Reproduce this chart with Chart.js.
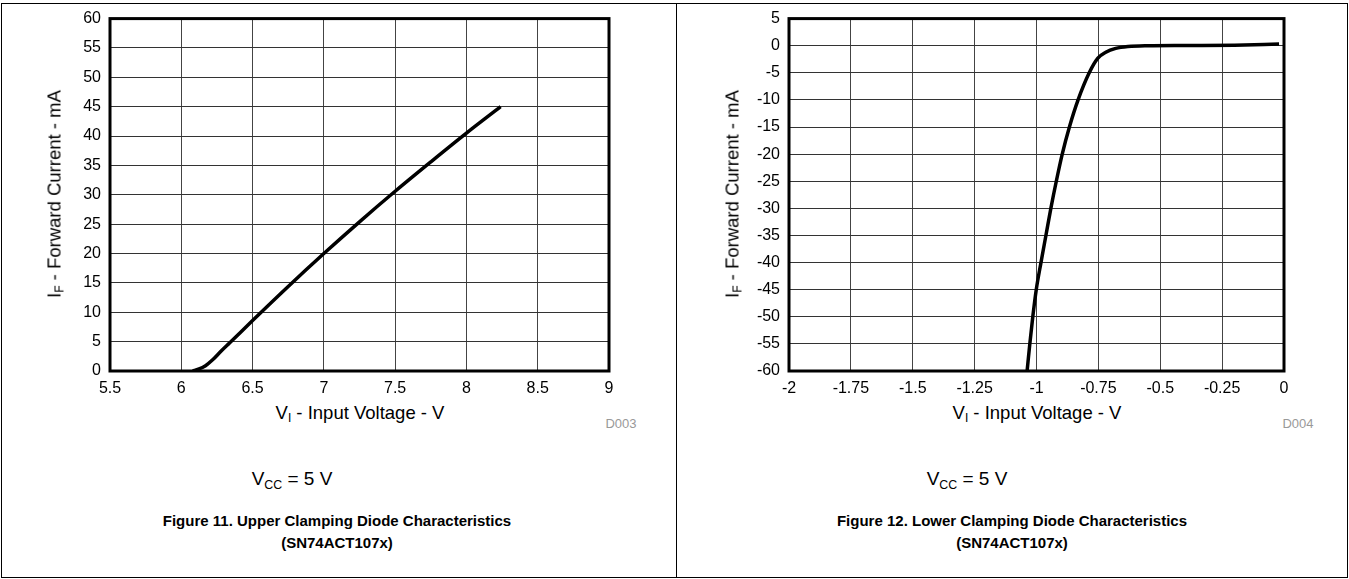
<!DOCTYPE html>
<html>
<head>
<meta charset="utf-8">
<script src="https://cdn.jsdelivr.net/npm/chart.js@4/dist/chart.umd.min.js"></script>
<style>
  body { margin: 0; background: #fff; font-family: "Liberation Sans", Arial, sans-serif; }
  #page { position: relative; width: 1349px; height: 579px; overflow: hidden; }
  .box { position: absolute; border: 1px solid #000; }
  .vline { position: absolute; width: 1px; background: #000; }
  canvas { position: absolute; }
  .txt { position: absolute; white-space: nowrap; color: #000; transform: translate(-50%, -50%); }
  .ytitle { transform: translate(-50%, -50%) rotate(-90deg); }
  .xtitle, .ytitle { font-size: 18.5px; }
  .code { font-size: 13px; color: #999; }
  .vcc { font-size: 19px; }
  .cap { font-size: 15px; font-weight: bold; text-align: center; line-height: 22px; }
  sub { font-size: 65%; vertical-align: -0.25em; }
</style>
</head>
<body>
<div id="page">
  <div class="box" style="left:1px;top:3px;width:1345px;height:573px;"></div>
  <div class="vline" style="left:676px;top:3px;height:575px;"></div>

  <canvas id="c1" style="left:0;top:0;"></canvas>
  <canvas id="c2" style="left:677px;top:0;"></canvas>

  <div class="txt ytitle" style="left:55px;top:194px;">I<sub>F</sub> - Forward Current - mA</div>
  <div class="txt xtitle" style="left:360px;top:413px;">V<sub>I</sub> - Input Voltage - V</div>
  <div class="txt code" style="left:621px;top:423px;">D003</div>
  <div class="txt vcc" style="left:292px;top:480px;">V<sub>CC</sub> = 5 V</div>
  <div class="txt cap" style="left:337px;top:532px;">Figure 11. Upper Clamping Diode Characteristics<br>(SN74ACT107x)</div>

  <div class="txt ytitle" style="left:733px;top:194px;">I<sub>F</sub> - Forward Current - mA</div>
  <div class="txt xtitle" style="left:1037px;top:413px;">V<sub>I</sub> - Input Voltage - V</div>
  <div class="txt code" style="left:1298px;top:423px;">D004</div>
  <div class="txt vcc" style="left:967px;top:480px;">V<sub>CC</sub> = 5 V</div>
  <div class="txt cap" style="left:1012px;top:532px;">Figure 12. Lower Clamping Diode Characteristics<br>(SN74ACT107x)</div>
</div>

<script>
// Figure 11 - upper clamp (V, mA)
const upperV = [6.08, 6.12, 6.17, 6.22, 6.28, 6.34, 6.5, 6.75, 7, 7.25, 7.5, 7.75, 8, 8.24];
const upperI = [0, 0.3, 0.9, 1.9, 3.4, 4.8, 8.6, 14.4, 20, 25.4, 30.6, 35.6, 40.5, 45];
const xLabels1 = ["5.5", "6", "6.5", "7", "7.5", "8", "8.5", "9"];
const yLabels1 = ["0", "5", "10", "15", "20", "25", "30", "35", "40", "45", "50", "55", "60"];

// Figure 12 - lower clamp (V, mA)
const lowerV = [-1.038, -1.027, -1.015, -1.001, -0.982, -0.962, -0.942, -0.92, -0.896, -0.867, -0.832, -0.787, -0.752, -0.72, -0.68, -0.63, -0.55, -0.4, -0.2, -0.02];
const lowerI = [-60, -55, -50, -45, -40, -35, -30, -25, -20, -15, -10, -5, -2.3, -1.2, -0.5, -0.15, 0, 0.05, 0.1, 0.3];
const xLabels2 = ["-2", "-1.75", "-1.5", "-1.25", "-1", "-0.75", "-0.5", "-0.25", "0"];
const yLabels2 = ["-60", "-55", "-50", "-45", "-40", "-35", "-30", "-25", "-20", "-15", "-10", "-5", "0", "5"];

const FONT = { family: "'Liberation Sans', Arial, sans-serif", size: 16 };

// thick frame round the plot area
const frame = {
  id: "frame",
  afterDraw(chart) {
    const { ctx, chartArea: a } = chart;
    ctx.save();
    ctx.strokeStyle = "#000";
    ctx.lineWidth = 3;
    ctx.strokeRect(a.left, a.top, a.right - a.left, a.bottom - a.top);
    ctx.restore();
  },
};

function makeChart(id, w, xs, ys, xr, yr, xLabels, yLabels, yWidth, padRight) {
  const canvas = document.getElementById(id);
  canvas.width = w;
  canvas.height = 400;
  canvas.style.width = w + "px";
  canvas.style.height = "400px";
  return new Chart(canvas, {
    type: "scatter",
    data: {
      datasets: [
        {
          data: xs.map((x, i) => ({ x: x, y: ys[i] })),
          showLine: true,
          borderColor: "#000",
          borderWidth: 3.5,
          pointRadius: 0,
          cubicInterpolationMode: "monotone",
        },
      ],
    },
    options: {
      responsive: false,
      animation: false,
      devicePixelRatio: 1,
      layout: { padding: { left: 0, top: 18, right: padRight, bottom: 0 } },
      plugins: { legend: { display: false }, tooltip: { enabled: false } },
      scales: {
        x: {
          type: "linear",
          min: xr[0],
          max: xr[1],
          border: { display: false },
          grid: { color: "#444", lineWidth: 1, drawTicks: false },
          ticks: {
            stepSize: xr[2],
            padding: 8,
            color: "#000",
            font: FONT,
            callback: (v, i) => xLabels[i],
          },
          afterFit: (s) => { s.height = 29; },
        },
        y: {
          min: yr[0],
          max: yr[1],
          border: { display: false },
          grid: { color: "#333", lineWidth: 1, drawTicks: false },
          ticks: {
            stepSize: 5,
            padding: 9,
            color: "#000",
            font: FONT,
            callback: (v, i) => yLabels[i],
          },
          afterFit: (s) => { s.width = yWidth; },
        },
      },
    },
    plugins: [frame],
  });
}

makeChart("c1", 670, upperV, upperI, [5.5, 9, 0.5], [0, 60], xLabels1, yLabels1, 110, 61);
makeChart("c2", 672, lowerV, lowerI, [-2, 0, 0.25], [-60, 5], xLabels2, yLabels2, 112, 65);
</script>
</body>
</html>
